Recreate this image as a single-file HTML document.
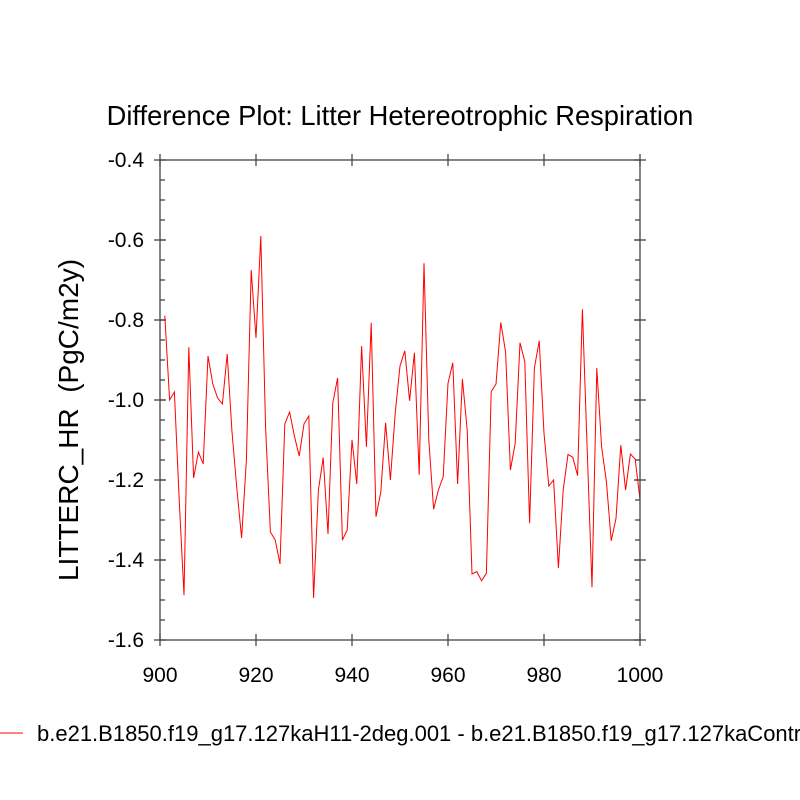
<!DOCTYPE html>
<html><head><meta charset="utf-8"><style>body{margin:0;background:#fff;overflow:hidden}svg{display:block}text{font-family:"Liberation Sans",sans-serif;fill:#000}</style></head>
<body>
<svg id="chart" width="800" height="800" viewBox="0 0 800 800">
<text x="400" y="125" font-size="27.3" text-anchor="middle">Difference Plot: Litter Hetereotrophic Respiration</text>
<text transform="translate(78,420) rotate(-90)" font-size="28" text-anchor="middle">LITTERC_HR &#160;(PgC/m2y)</text>
<g id="axes"></g>
<path id="line" fill="none" stroke="#ff0000" stroke-width="1"/>
<rect x="160" y="160" width="480" height="480" fill="none" stroke="#444" stroke-width="1.3"/>
<line x1="0" y1="733" x2="23" y2="733" stroke="#ff0000" stroke-width="1"/>
<text x="37" y="741" font-size="22">b.e21.B1850.f19_g17.127kaH11-2deg.001 - b.e21.B1850.f19_g17.127kaControl</text>
</svg>
<script>
const years = [];
for (let y = 901; y <= 1000; y++) years.push(y);
const values = [-0.789,-1.0,-0.98,-1.25,-1.488,-0.868,-1.195,-1.13,-1.16,-0.89,-0.96,-0.995,-1.01,-0.885,-1.08,-1.22,-1.345,-1.15,-0.675,-0.845,-0.59,-1.07,-1.33,-1.35,-1.41,-1.06,-1.03,-1.09,-1.14,-1.06,-1.04,-1.495,-1.225,-1.144,-1.335,-1.007,-0.945,-1.35,-1.325,-1.10,-1.21,-0.865,-1.117,-0.807,-1.292,-1.23,-1.057,-1.2,-1.033,-0.915,-0.877,-1.002,-0.882,-1.187,-0.658,-1.10,-1.273,-1.225,-1.192,-0.958,-0.907,-1.21,-0.948,-1.075,-1.435,-1.429,-1.452,-1.433,-0.979,-0.96,-0.806,-0.88,-1.175,-1.108,-0.857,-0.904,-1.308,-0.92,-0.852,-1.083,-1.215,-1.2,-1.42,-1.225,-1.136,-1.143,-1.189,-0.773,-1.125,-1.468,-0.92,-1.117,-1.204,-1.352,-1.296,-1.113,-1.225,-1.135,-1.148,-1.25];
const xTicks = [900,920,940,960,980,1000];
const yTicks = [-0.4,-0.6,-0.8,-1.0,-1.2,-1.4,-1.6];
const yTickLabels = ["-0.4","-0.6","-0.8","-1.0","-1.2","-1.4","-1.6"];
const X0=160,X1=640,Y0=640,Y1=160;
const xs = v => X0 + (v-900)/(1000-900)*(X1-X0);
const ys = v => Y0 - (v-(-1.6))/((-0.4)-(-1.6))*(Y0-Y1);
const NS="http://www.w3.org/2000/svg";
const ax=document.getElementById('axes');
function ln(x1,y1,x2,y2,name){const l=document.createElementNS(NS,'line');l.setAttribute('x1',x1);l.setAttribute('y1',y1);l.setAttribute('x2',x2);l.setAttribute('y2',y2);l.setAttribute('stroke','#444');l.setAttribute('stroke-width','1.3');


ax.appendChild(l);}
function tx(x,y,s,anchor,name){const t=document.createElementNS(NS,'text');t.setAttribute('x',x);t.setAttribute('y',y);t.setAttribute('font-size','21');t.setAttribute('text-anchor',anchor);t.textContent=s;


ax.appendChild(t);}
xTicks.forEach(v=>{const x=xs(v);ln(x,Y0-6,x,Y0+6,'x-tick');ln(x,Y1-6,x,Y1+6,'x-tick-top');tx(x,Y0+42,String(v),'middle','x-tick-label');});
yTicks.forEach((v,i)=>{const y=ys(v);ln(X0-6,y,X0+6,y,'y-tick');ln(X1-6,y,X1+6,y,'y-tick-right');tx(X0-16,y+7,yTickLabels[i],'end','y-tick-label');});
for(let v=-1.55;v<-0.4;v+=0.05){const y=ys(v);ln(X0,y,X0+5,y,'y-minor-tick');ln(X1-5,y,X1,y,'y-minor-tick-right');}
document.getElementById('line').setAttribute('d',values.map((v,i)=>(i?'L':'M')+xs(years[i]).toFixed(2)+','+ys(v).toFixed(2)).join(''));
</script>
</body></html>
